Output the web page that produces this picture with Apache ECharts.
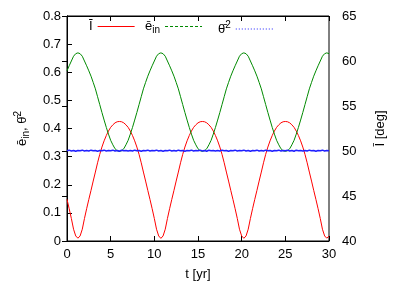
<!DOCTYPE html>
<html>
<head>
<meta charset="utf-8">
<script src="https://cdn.jsdelivr.net/npm/echarts@6/dist/echarts.min.js"></script>
<style>html,body{margin:0;padding:0;background:#fff}#c{width:409px;height:286px}</style>
</head>
<body>
<div id="c"></div>
<script>
// time grid [yr]
const T = [0,0.25,0.5,0.75,1,1.25,1.5,1.75,2,2.25,2.5,2.75,3,3.25,3.5,3.75,4,4.25,4.5,4.75,5,5.25,5.5,5.75,6,6.25,6.5,6.75,7,7.25,7.5,7.75,8,8.25,8.5,8.75,9,9.25,9.5,9.75,10,10.25,10.5,10.75,11,11.25,11.5,11.75,12,12.25,12.5,12.75,13,13.25,13.5,13.75,14,14.25,14.5,14.75,15,15.25,15.5,15.75,16,16.25,16.5,16.75,17,17.25,17.5,17.75,18,18.25,18.5,18.75,19,19.25,19.5,19.75,20,20.25,20.5,20.75,21,21.25,21.5,21.75,22,22.25,22.5,22.75,23,23.25,23.5,23.75,24,24.25,24.5,24.75,25,25.25,25.5,25.75,26,26.25,26.5,26.75,27,27.25,27.5,27.75,28,28.25,28.5,28.75,29,29.25,29.5,29.75,30];

// Ī [deg] (red, right axis)
const INC = [44.63,43.59,42.50,41.31,40.56,40.31,
40.56,41.31,42.50,43.59,44.63,45.63,46.66,47.66,48.69,49.63,50.44,51.13,51.72,52.22,52.63,52.91,53.13,53.25,53.28,
53.25,53.13,52.91,52.63,52.22,51.72,51.13,50.44,49.63,48.69,47.66,46.66,45.63,44.63,43.59,42.50,41.31,40.56,40.29,
40.56,41.31,42.50,43.59,44.63,45.63,46.66,47.66,48.69,49.63,50.44,51.13,51.72,52.22,52.63,52.91,53.13,53.25,53.28,
53.25,53.13,52.91,52.63,52.22,51.72,51.13,50.44,49.63,48.69,47.66,46.66,45.63,44.63,43.59,42.50,41.31,40.56,40.30,
40.56,41.31,42.50,43.59,44.63,45.63,46.66,47.66,48.69,49.63,50.44,51.13,51.72,52.22,52.63,52.91,53.13,53.25,53.28,
53.25,53.13,52.91,52.63,52.22,51.72,51.13,50.44,49.63,48.69,47.66,46.66,45.63,44.63,43.59,42.50,41.31,40.56,40.31,
40.56];

// ē_in (green, left axis)
const ECC = [0.605,0.623,0.640,0.657,0.666,0.669,
0.666,0.657,0.640,0.623,0.605,0.586,0.564,0.541,0.513,0.485,0.457,0.430,0.404,0.380,0.358,0.342,0.328,0.321,0.319,
0.321,0.328,0.342,0.358,0.380,0.404,0.430,0.457,0.485,0.513,0.541,0.564,0.586,0.605,0.623,0.640,0.657,0.666,0.669,
0.666,0.657,0.640,0.623,0.605,0.586,0.564,0.541,0.513,0.485,0.457,0.430,0.404,0.380,0.358,0.342,0.328,0.321,0.319,
0.321,0.328,0.342,0.358,0.380,0.404,0.430,0.457,0.485,0.513,0.541,0.564,0.586,0.605,0.623,0.640,0.657,0.666,0.669,
0.666,0.657,0.640,0.623,0.605,0.586,0.564,0.541,0.513,0.485,0.457,0.430,0.404,0.380,0.358,0.342,0.328,0.321,0.319,
0.321,0.328,0.342,0.358,0.380,0.404,0.430,0.457,0.485,0.513,0.541,0.564,0.586,0.605,0.623,0.640,0.657,0.666,0.669,
0.666];

// θ̄² (blue, left axis)
const THETA2 = [0.321,0.323,0.320,0.322,0.319,0.322,0.321,0.323,0.320,0.322,
0.320,0.323,0.321,0.322,0.319,0.322,0.321,0.323,0.320,0.322,
0.321,0.323,0.320,0.322,0.319,0.323,0.321,0.322,0.320,0.322,
0.320,0.323,0.321,0.322,0.319,0.322,0.321,0.323,0.320,0.322,
0.321,0.323,0.320,0.322,0.319,0.322,0.321,0.323,0.320,0.322,
0.320,0.323,0.321,0.322,0.319,0.322,0.321,0.323,0.320,0.322,
0.321,0.323,0.320,0.322,0.319,0.323,0.321,0.322,0.320,0.322,
0.320,0.323,0.321,0.322,0.319,0.322,0.321,0.323,0.320,0.322,
0.321,0.323,0.320,0.322,0.319,0.322,0.321,0.323,0.320,0.322,
0.320,0.323,0.321,0.322,0.319,0.322,0.321,0.323,0.320,0.322,
0.321,0.323,0.320,0.322,0.319,0.323,0.321,0.322,0.320,0.322,
0.320,0.323,0.321,0.322,0.319,0.322,0.321,0.323,0.320,0.322,
0.321];

const X_TICKS = {min: 0, max: 30, interval: 5};
const Y_LEFT = {min: 0, max: 0.8, interval: 0.1};
const Y_RIGHT = {min: 40, max: 65, interval: 5};

const FONT = 'Liberation Sans';
const FS = 13;
const richBase = {
  m: {fontFamily: FONT, fontSize: FS, color: '#000', lineHeight: 18},
  s: {fontFamily: FONT, fontSize: 10, color: '#000', lineHeight: 10, verticalAlign: 'bottom'},
  p: {fontFamily: FONT, fontSize: 10, color: '#000', lineHeight: 10, verticalAlign: 'top'}
};

// legend sample shapes (solid / dashed / dotted strokes)
const ICON_SOLID = 'path://M0,0h37v1h-37z';
const ICON_DASHED = 'path://M0,0h3v1h-3z M5,0h3v1h-3z M10,0h3v1h-3z M15,0h3v1h-3z M20,0h3v1h-3z M25,0h3v1h-3z M30,0h3v1h-3z M35,0h2v1h-2z';
const ICON_DOTTED = 'path://M0,0h1v1h-1z M3,0h1v1h-1z M6,0h1v1h-1z M9,0h1v1h-1z M12,0h1v1h-1z M15,0h1v1h-1z M18,0h1v1h-1z M21,0h1v1h-1z M24,0h1v1h-1z M27,0h1v1h-1z M30,0h1v1h-1z M33,0h1v1h-1z M36,0h1v1h-1z';

const chart = echarts.init(document.getElementById('c'), null, {renderer: 'canvas'});
const axisCommon = {
  axisLine: {show: true, lineStyle: {color: '#000', width: 1}},
  axisTick: {show: true, inside: true, length: 5, lineStyle: {color: '#000'}},
  splitLine: {show: false},
  axisLabel: {color: '#000', fontFamily: FONT, fontSize: FS}
};

const legendCommon = {
  orient: 'horizontal', align: 'right', top: 20, itemWidth: 37, itemHeight: 1,
  padding: 0, selectedMode: false,
  textStyle: {color: '#000', fontFamily: FONT, fontSize: FS, rich: richBase}
};

chart.setOption({
  animation: false,
  grid: {left: 67, right: 80, top: 16, bottom: 44, show: true, borderColor: '#000', borderWidth: 1},
  legend: [
    Object.assign({}, legendCommon, {left: 89, data: [{name: 'Ī', icon: ICON_SOLID}], formatter: () => '{m|Ī}'}),
    Object.assign({}, legendCommon, {left: 145, data: [{name: 'ē_in', icon: ICON_DASHED}], formatter: () => '{m|ē}{s|in}'}),
    Object.assign({}, legendCommon, {left: 218, data: [{name: 'θ̄²', icon: ICON_DOTTED}], formatter: () => '{m|θ̄}{p|2}'})
  ],
  xAxis: [
    Object.assign({}, axisCommon, {type: 'value', position: 'bottom', min: X_TICKS.min, max: X_TICKS.max, interval: X_TICKS.interval,
      axisLabel: Object.assign({}, axisCommon.axisLabel, {margin: 7}),
      name: 't [yr]', nameLocation: 'middle', nameGap: 27,
      nameTextStyle: {color: '#000', fontFamily: FONT, fontSize: FS}}),
    Object.assign({}, axisCommon, {type: 'value', position: 'top', min: X_TICKS.min, max: X_TICKS.max, interval: X_TICKS.interval,
      axisLabel: {show: false}})
  ],
  yAxis: [
    Object.assign({}, axisCommon, {type: 'value', position: 'left', min: Y_LEFT.min, max: Y_LEFT.max, interval: Y_LEFT.interval,
      axisLabel: Object.assign({}, axisCommon.axisLabel, {margin: 6}),
      name: '{m|ē}{s|in}{m|, θ̄}{p|2}', nameLocation: 'middle', nameGap: 36, nameRotate: 90,
      nameTextStyle: {rich: richBase}}),
    Object.assign({}, axisCommon, {type: 'value', position: 'right', min: Y_RIGHT.min, max: Y_RIGHT.max, interval: Y_RIGHT.interval,
      axisLabel: Object.assign({}, axisCommon.axisLabel, {margin: 13}),
      name: 'Ī [deg]', nameLocation: 'middle', nameGap: 45, nameRotate: 90,
      nameTextStyle: {color: '#000', fontFamily: FONT, fontSize: FS}})
  ],
  series: [
    {name: 'Ī', type: 'line', yAxisIndex: 1, symbol: 'none', data: T.map((t, i) => [t, INC[i]]),
      lineStyle: {color: '#ff0000', width: 1}, itemStyle: {color: '#ff0000'}},
    {name: 'ē_in', type: 'line', yAxisIndex: 0, symbol: 'none', data: T.map((t, i) => [t, ECC[i]]),
      lineStyle: {color: '#008a00', width: 1}, itemStyle: {color: '#008a00'}},
    {name: 'θ̄²', type: 'line', yAxisIndex: 0, symbol: 'none', data: T.map((t, i) => [t, THETA2[i]]),
      lineStyle: {color: '#1f1fff', width: 1.5}, itemStyle: {color: '#1f1fff'}}
  ]
});
</script>
</body>
</html>
